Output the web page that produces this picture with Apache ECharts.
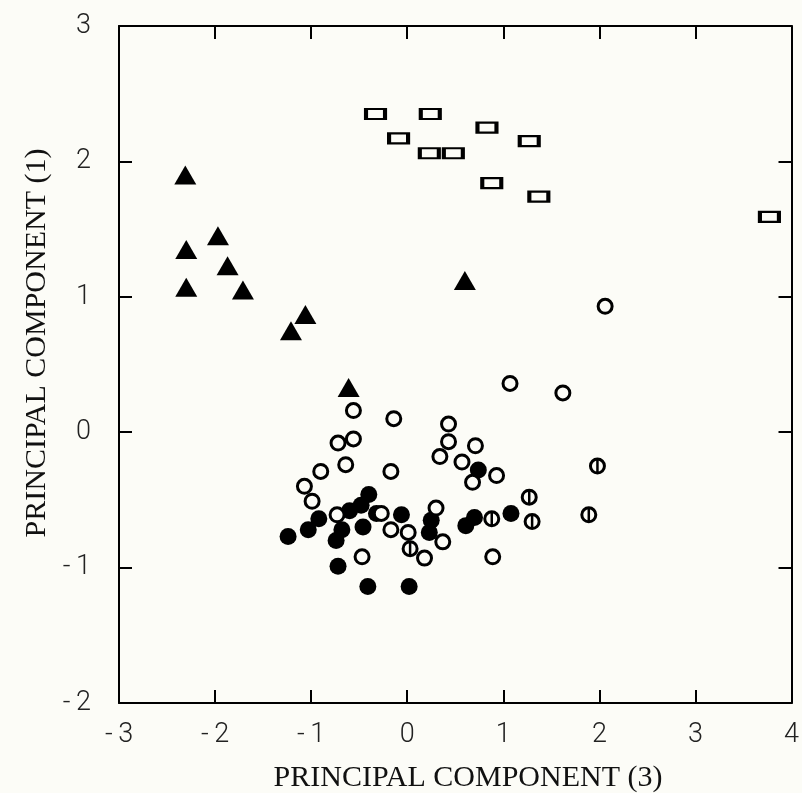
<!DOCTYPE html>
<html>
<head>
<meta charset="utf-8">
<script src="https://cdn.jsdelivr.net/npm/echarts@6/dist/echarts.min.js"></script>
<style>
html,body{margin:0;padding:0;background:#fcfcf7;}
#main{width:802px;height:793px;}
</style>
</head>
<body>
<div id="main"></div>
<script>
// PC(3), PC(1) pairs
var squares = [[-0.33,2.35],[0.24,2.35],[0.83,2.25],[-0.09,2.17],[1.27,2.15],
	[0.23,2.06],[0.48,2.06],[0.88,1.84],[1.37,1.74],[3.77,1.59]];
var triangles = [[-2.31,1.90],[-1.97,1.45],[-2.30,1.35],[-1.87,1.23],[-2.30,1.07],
	[-1.71,1.05],[0.60,1.12],[-1.06,0.87],[-1.21,0.75],[-0.61,0.33]];
var filled = [[-1.24,-0.77],[-1.03,-0.72],[-0.92,-0.64],[-0.68,-0.72],[-0.74,-0.80],
	[-0.72,-0.99],[-0.41,-1.14],[0.02,-1.14],[-0.46,-0.70],[-0.60,-0.58],
	[-0.48,-0.54],[-0.40,-0.46],[-0.32,-0.60],[-0.06,-0.61],[0.25,-0.65],
	[0.23,-0.74],[0.61,-0.69],[0.70,-0.63],[1.08,-0.60],[0.74,-0.28]];
var openCircles = [[2.06,0.93],[1.07,0.36],[1.62,0.29],[-0.56,0.16],[-0.14,0.10],
	[0.43,0.06],[-0.56,-0.05],[-0.72,-0.08],[0.43,-0.07],[0.71,-0.10],
	[0.34,-0.18],[0.57,-0.22],[-0.64,-0.24],[-0.90,-0.29],[-0.17,-0.29],
	[0.93,-0.32],[0.68,-0.37],[-1.07,-0.40],[-0.99,-0.51],[-0.73,-0.61],
	[-0.27,-0.60],[0.30,-0.56],[-0.17,-0.72],[0.01,-0.74],[0.37,-0.81],
	[-0.47,-0.92],[0.18,-0.93],[0.89,-0.92]];
var barred = [[1.98,-0.25],[1.27,-0.48],[1.30,-0.66],[0.88,-0.64],[1.89,-0.61],[0.03,-0.86]];

var xTitle = 'PRINCIPAL COMPONENT (3)';
var yTitle = 'PRINCIPAL COMPONENT (1)';

var bg = '#fcfcf7';
var tickFont = {fontFamily:'Roboto', fontWeight:300, fontSize:27, color:'#222'};

function lbl(v){
	return v < 0 ? '-\u2009' + Math.abs(v) : '' + v;
}

function frameAxis(pos, min, max){
	return {
		type:'value', position:pos, min:min, max:max, interval:1,
		splitLine:{show:false},
		axisLine:{onZero:false, lineStyle:{color:'#000', width:2}},
		axisTick:{inside:true, length:13, lineStyle:{color:'#000', width:2}},
		axisLabel:{show:false}
	};
}

var myChart = echarts.init(document.getElementById('main'));
var xMain = frameAxis('bottom', -3, 4);
xMain.axisLabel = Object.assign({margin:19, formatter:lbl}, tickFont);
var yMain = frameAxis('left', -2, 3);
yMain.axisLabel = Object.assign({margin:28, formatter:lbl}, tickFont);

myChart.setOption({
	backgroundColor: bg,
	animation: false,
	grid: {left:119, right:5, top:26, bottom:90},
	xAxis: [xMain, frameAxis('top', -3, 4)],
	yAxis: [yMain, frameAxis('right', -2, 3)],
	graphic: [{
		type:'text', x:468, y:778,
		style:{text:xTitle, font:'30px "Liberation Serif"', fill:'#111', textAlign:'center', textVerticalAlign:'middle'}
	},{
		type:'text', x:37, y:343, rotation:Math.PI/2,
		style:{text:yTitle, font:'30px "Liberation Serif"', fill:'#111', textAlign:'center', textVerticalAlign:'middle'}
	}],
	series: [{
		name:'squares', type:'scatter', data:squares,
		symbol:'rect', symbolSize:[19,10],
		itemStyle:{color:bg, borderColor:'#000', borderWidth:3, opacity:1}
	},{
		name:'triangles', type:'scatter', data:triangles,
		symbol:'triangle', symbolSize:[22,19],
		itemStyle:{color:'#000', opacity:1}
	},{
		name:'filled', type:'scatter', data:filled,
		symbol:'circle', symbolSize:17,
		itemStyle:{color:'#000', opacity:1}
	},{
		name:'open', type:'scatter', data:openCircles,
		symbol:'circle', symbolSize:14,
		itemStyle:{color:bg, borderColor:'#000', borderWidth:3, opacity:1}
	},{
		name:'barred', type:'scatter', data:barred,
		symbol:'circle', symbolSize:14,
		itemStyle:{color:bg, borderColor:'#000', borderWidth:3, opacity:1}
	},{
		name:'barredLine', type:'scatter', data:barred,
		symbol:'rect', symbolSize:[2.5,13],
		itemStyle:{color:'#000', opacity:1}
	}]
});
</script>
</body>
</html>
